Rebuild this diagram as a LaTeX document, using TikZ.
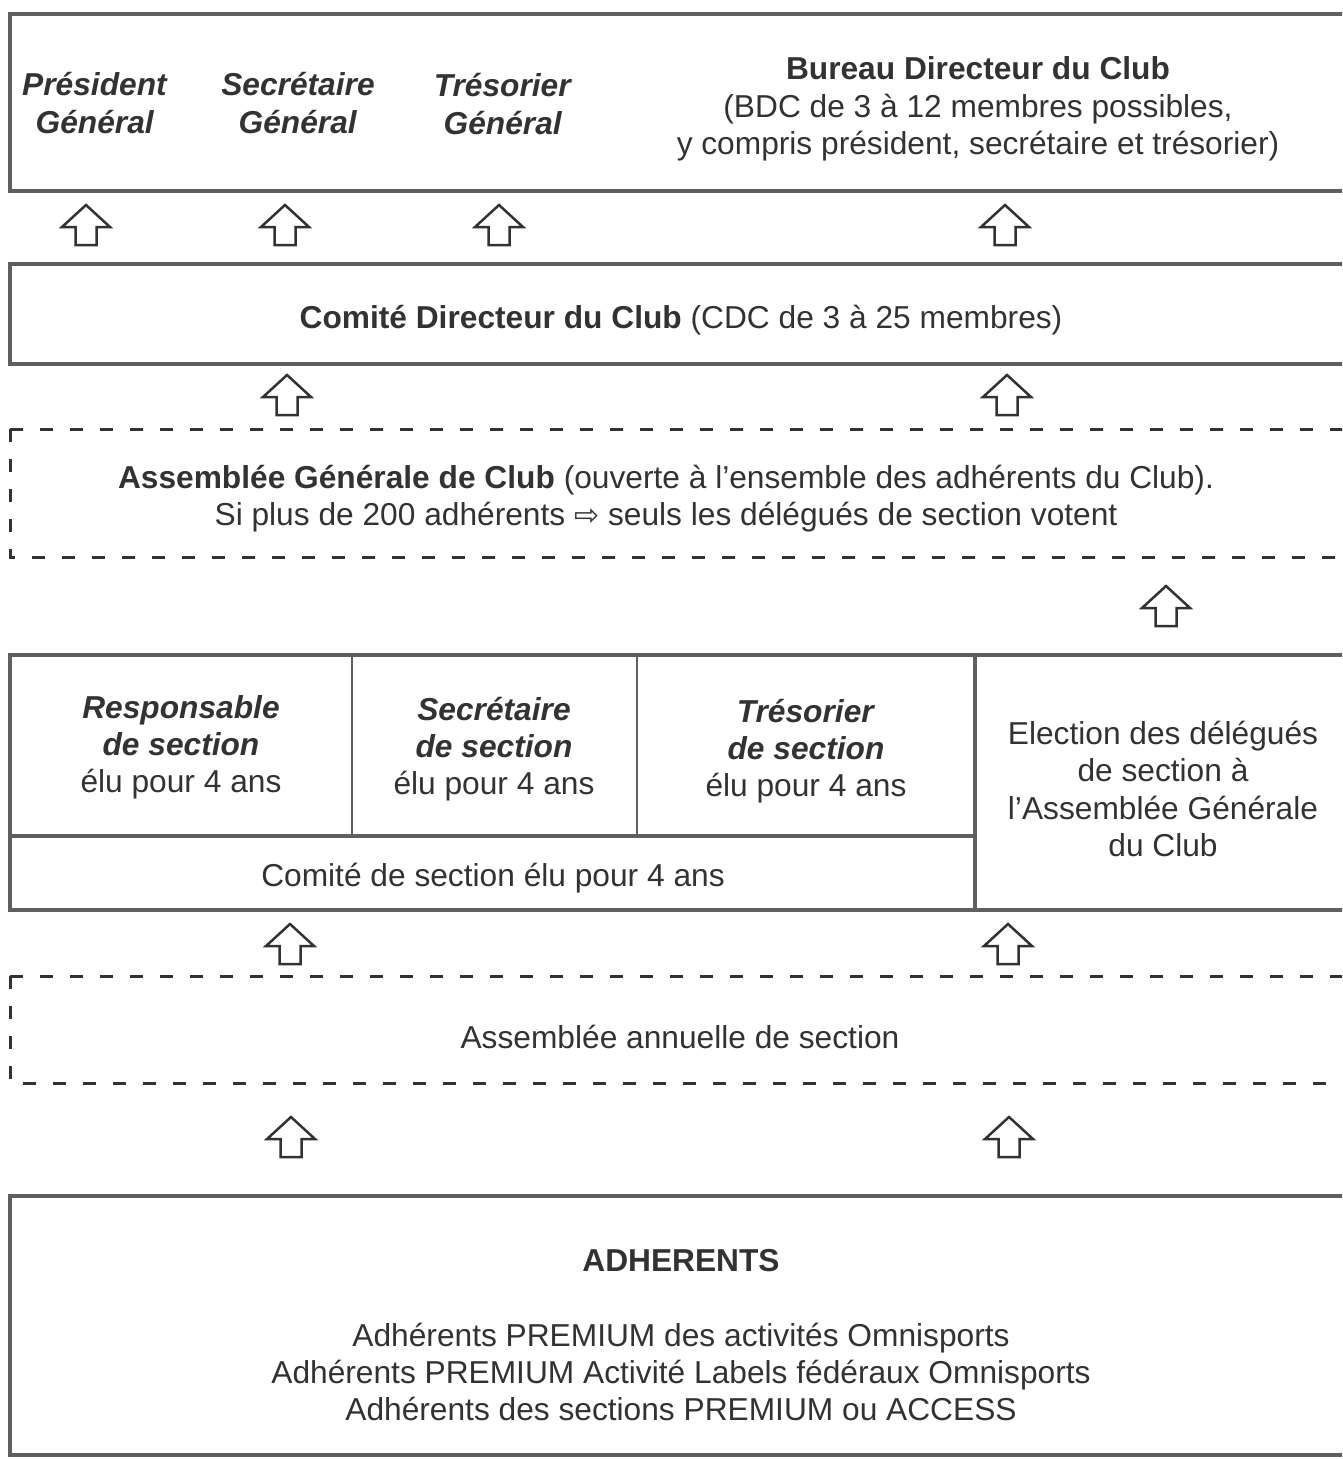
\documentclass[tikz,border=0pt]{standalone}
\usepackage{fontspec}
\setmainfont{Liberation Sans}
\newfontfamily\symfont{DejaVu Sans}
\definecolor{frame}{RGB}{95,95,95}
\definecolor{ink}{RGB}{50,50,50}
\begin{document}
\begin{tikzpicture}[x=1pt,y=-1pt,
  frm/.style={draw=frame, line width=4pt},
  dsh/.style={draw=ink, line width=3pt, dash pattern=on 13pt off 17pt},
  thinline/.style={draw=frame, line width=1.5pt},
  txt/.style={text=ink, align=center, font=\fontsize{31.7}{37.2}\selectfont, inner sep=0pt},
  upar/.pic={\draw[ink, line width=2.5pt, line join=miter, fill=white]
     (0,0) -- (24,22) -- (10.5,22) -- (10.5,40) -- (-10.5,40) -- (-10.5,22) -- (-24,22) -- cycle;}]
\useasboundingbox (0,0) rectangle (1342,1459);
\clip (0,0) rectangle (1342,1459);

% ---- top box
\draw[frm] (10,14) rectangle (1400,191);
\node[txt] (pres) at (95,103) {\textbf{\textit{Président}}\\\textbf{\textit{Général}}};
\node[txt] (secg) at (298,103) {\textbf{\textit{Secrétaire}}\\\textbf{\textit{Général}}};
\node[txt] (tresg) at (503,104) {\textbf{\textit{Trésorier}}\\\textbf{\textit{Général}}};
\node[txt] (bdc) at (978,109) {\textbf{Bureau Directeur du Club}\\(BDC de 3 à 12 membres possibles,\\y compris président, secrétaire et trésorier)};

\pic (a1) at (86,205) {upar};
\pic (a2) at (285,205) {upar};
\pic (a3) at (499,205) {upar};
\pic (a4) at (1005,205) {upar};

% ---- CDC
\draw[frm] (10,264) rectangle (1400,364);
\node[txt] (cdc) at (681,320) {\textbf{Comité Directeur du Club} (CDC de 3 à 25 membres)};

\pic (b1) at (287,375) {upar};
\pic (b2) at (1007,375) {upar};

% ---- AG dashed
\draw[dsh] (10,429) -- (1400,429);
\draw[dsh] (10,429) -- (10,557) -- (1400,557);
\node[txt] (ag) at (666,499) {\textbf{Assemblée Générale de Club} (ouverte à l’ensemble des adhérents du Club).\\Si plus de 200 adhérents {\symfont\fontsize{30}{37}\selectfont ⇨} seuls les délégués de section votent};

\pic (c1) at (1166,586) {upar};

% ---- section box
\draw[frm] (10,655) rectangle (1400,910);
\draw[frm] (975,655) -- (975,910);
\draw[frm] (10,836) -- (975,836);
\draw[thinline] (352,655) -- (352,836);
\draw[thinline] (637,655) -- (637,836);
\node[txt] (resp) at (181,747) {\textbf{\textit{Responsable}}\\\textbf{\textit{de section}}\\élu pour 4 ans};
\node[txt] (secs) at (494,749) {\textbf{\textit{Secrétaire}}\\\textbf{\textit{de section}}\\élu pour 4 ans};
\node[txt] (tress) at (806,751) {\textbf{\textit{Trésorier}}\\\textbf{\textit{de section}}\\élu pour 4 ans};
\node[txt] (comsec) at (493,878) {Comité de section élu pour 4 ans};
\node[txt] (elec) at (1163,789) {Election des délégués\\de section à\\l’Assemblée Générale\\du Club};

\pic (d1) at (290,924) {upar};
\pic (d2) at (1008,924) {upar};

% ---- assemblée annuelle dashed
\draw[dsh] (10,976) -- (1400,976);
\draw[dsh] (10,976) -- (10,1083) -- (1400,1083);
\node[txt] (aas) at (680,1037) {Assemblée annuelle de section};

\pic (e1) at (291,1117) {upar};
\pic (e2) at (1009,1117) {upar};

% ---- adherents
\draw[frm] (10,1196) rectangle (1400,1455);
\node[txt] (adh) at (681,1261) {\textbf{ADHERENTS}};
\node[txt, font=\fontsize{31.7}{36.6}\selectfont] (adhl) at (681,1372) {Adhérents PREMIUM des activités Omnisports\\Adhérents PREMIUM Activité Labels fédéraux Omnisports\\Adhérents des sections PREMIUM ou ACCESS};
\end{tikzpicture}
\end{document}
